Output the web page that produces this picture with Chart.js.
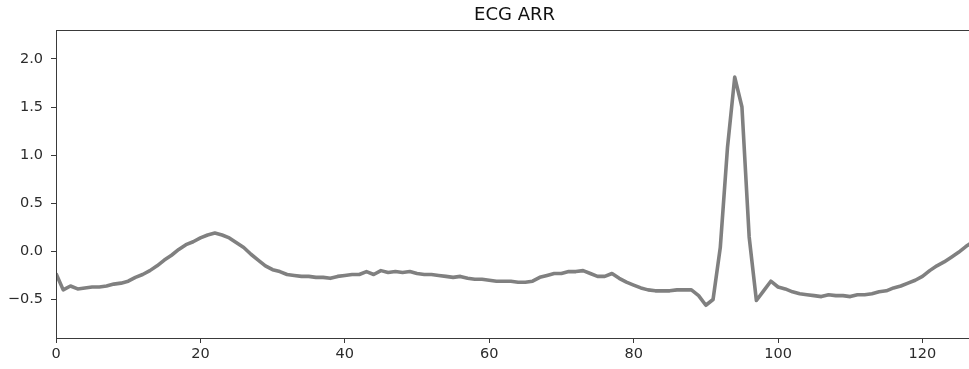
<!DOCTYPE html>
<html>
<head>
<meta charset="utf-8">
<title>ECG ARR</title>
<script src="https://cdn.jsdelivr.net/npm/chart.js@4/dist/chart.umd.min.js"></script>
<style>
  html, body { margin: 0; padding: 0; background: #fff; overflow: hidden; }
  #wrap { width: 980px; height: 369px; position: relative; }
</style>
</head>
<body>
<div id="wrap"><canvas id="ecg"></canvas></div>
<script>
// One beat of the ECG trace (arrhythmia record), one value per sample
const chartTitle = 'ECG ARR';
const ecgValues = [
  -0.23, -0.40, -0.36, -0.39, -0.38, -0.37, -0.37, -0.36, -0.34, -0.33,
  -0.31, -0.27, -0.24, -0.20, -0.15, -0.09, -0.04,  0.02,  0.07,  0.10,
   0.14,  0.17,  0.19,  0.17,  0.14,  0.09,  0.04, -0.03, -0.09, -0.15,
  -0.19, -0.21, -0.24, -0.25, -0.26, -0.26, -0.27, -0.27, -0.28, -0.26,
  -0.25, -0.24, -0.24, -0.21, -0.24, -0.20, -0.22, -0.21, -0.22, -0.21,
  -0.23, -0.24, -0.24, -0.25, -0.26, -0.27, -0.26, -0.28, -0.29, -0.29,
  -0.30, -0.31, -0.31, -0.31, -0.32, -0.32, -0.31, -0.27, -0.25, -0.23,
  -0.23, -0.21, -0.21, -0.20, -0.23, -0.26, -0.26, -0.23, -0.28, -0.32,
  -0.35, -0.38, -0.40, -0.41, -0.41, -0.41, -0.40, -0.40, -0.40, -0.46,
  -0.56, -0.50,  0.04,  1.08,  1.81,  1.50,  0.15, -0.51, -0.41, -0.31,
  -0.37, -0.39, -0.42, -0.44, -0.45, -0.46, -0.47, -0.45, -0.46, -0.46,
  -0.47, -0.45, -0.45, -0.44, -0.42, -0.41, -0.38, -0.36, -0.33, -0.30,
  -0.26, -0.20, -0.15, -0.11, -0.06, -0.01,  0.05,  0.10
];
// Sample numbers along the horizontal axis
const sampleIndex = ecgValues.map((_, i) => i);
const xTickValues = [0, 20, 40, 60, 80, 100, 120];
const yTickValues = [-0.5, 0.0, 0.5, 1.0, 1.5, 2.0];
const xRange = [0, 127];
const yRange = [-0.9, 2.3];

const points = sampleIndex.map((x, i) => ({ x: x, y: ecgValues[i] }));

const spineColor = '#3a3a3a';
const labelColor = '#2b2b2b';
const fontFamily = '"DejaVu Sans", sans-serif';

// Frame around the whole plotting area (top/right edges included)
const frame = {
  id: 'frame',
  afterDraw(chart) {
    const a = chart.chartArea;
    const ctx = chart.ctx;
    ctx.save();
    ctx.strokeStyle = spineColor;
    ctx.lineWidth = 1;
    ctx.strokeRect(Math.round(a.left) + 0.5, Math.round(a.top) + 0.5,
                   Math.round(a.right - a.left), Math.round(a.bottom - a.top));
    ctx.restore();
  }
};

const fmt = v => (v < 0 ? '\u2212' : '') + Math.abs(v).toFixed(1);

new Chart(document.getElementById('ecg'), {
  type: 'line',
  data: {
    datasets: [{
      data: points,
      borderColor: '#808080',
      borderWidth: 3.6,
      borderJoinStyle: 'round',
      borderCapStyle: 'butt',
      pointRadius: 0,
      tension: 0,
      fill: false
    }]
  },
  options: {
    responsive: true,
    maintainAspectRatio: false,
    animation: false,
    parsing: false,
    layout: { padding: { left: 0, right: 7, top: 0, bottom: 0 } },
    plugins: {
      legend: { display: false },
      tooltip: { enabled: false },
      title: {
        display: true,
        // span only the plot width so the title sits centred over the axes
        fullSize: false,
        text: chartTitle,
        color: '#111',
        font: { family: fontFamily, size: 18, weight: 'normal', lineHeight: 1.2 },
        padding: { top: 4.5, bottom: 3.9 }
      }
    },
    scales: {
      x: {
        type: 'linear',
        min: xRange[0],
        max: xRange[1],
        afterBuildTicks: s => { s.ticks = xTickValues.map(v => ({ value: v })); },
        afterFit: s => { s.height = 31; },
        ticks: {
          color: labelColor,
          font: { family: fontFamily, size: 14.5 },
          padding: 3,
          maxRotation: 0,
          callback: v => String(v)
        },
        grid: {
          drawOnChartArea: false,
          drawTicks: true,
          tickLength: 5,
          color: spineColor
        },
        border: { display: true, color: spineColor, width: 1 }
      },
      y: {
        type: 'linear',
        min: yRange[0],
        max: yRange[1],
        afterBuildTicks: s => { s.ticks = yTickValues.map(v => ({ value: v })); },
        afterFit: s => { s.width = 56; },
        ticks: {
          color: labelColor,
          font: { family: fontFamily, size: 14.5 },
          padding: 8,
          callback: v => fmt(v)
        },
        grid: {
          drawOnChartArea: false,
          drawTicks: true,
          tickLength: 5,
          color: spineColor
        },
        border: { display: true, color: spineColor, width: 1 }
      }
    }
  },
  plugins: [frame]
});
</script>
</body>
</html>
